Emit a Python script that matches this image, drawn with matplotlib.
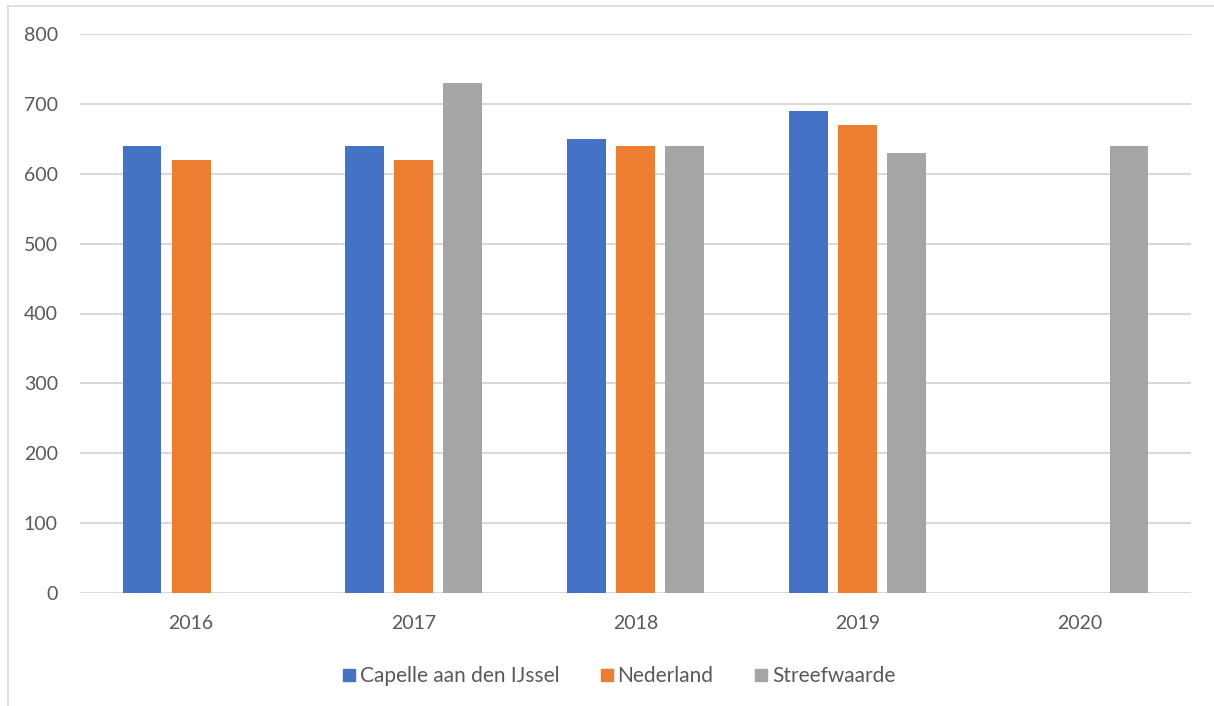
import matplotlib
matplotlib.use("Agg")
import matplotlib.pyplot as plt
import numpy as np
from matplotlib.lines import Line2D

years = ["2016", "2017", "2018", "2019", "2020"]
capelle = [640, 640, 650, 690, np.nan]
nederland = [620, 620, 640, 670, np.nan]
streefwaarde = [np.nan, 730, 640, 630, 640]
series_names = ["Capelle aan den IJssel", "Nederland", "Streefwaarde"]
colors = ["#4472C4", "#ED7D31", "#A5A5A5"]
yticks = [0, 100, 200, 300, 400, 500, 600, 700, 800]

plt.rcParams['font.family'] = ['Lato', 'DejaVu Sans']

fig = plt.figure(figsize=(12.14, 7.06), dpi=100)
ax = fig.add_axes([80/1214, 1-593/706, 1111/1214, (593-34)/706])

x = np.arange(len(years))
offset = 0.221
width = 0.175
for i, (vals, name, c) in enumerate(zip([capelle, nederland, streefwaarde], series_names, colors)):
    ax.bar(x + (i-1)*offset, vals, width=width, color=c, label=name, zorder=3)

ax.set_xlim(-0.5, len(years)-0.5)
ax.set_ylim(0, 800)
ax.set_yticks(yticks)
ax.set_xticks(x)
ax.set_xticklabels(years)
ax.grid(axis='y', color='#D9D9D9', linewidth=1.5, zorder=0)
for s in ax.spines.values():
    s.set_visible(False)
ax.tick_params(axis='both', length=0, labelsize=14, colors='#595959')
ax.tick_params(axis='y', pad=16)
ax.tick_params(axis='x', pad=16)

handles = [Line2D([0], [0], marker='s', linestyle='', markersize=9, markerfacecolor=c, markeredgecolor=c) for c in colors]
fig.legend(handles, series_names, loc='center', bbox_to_anchor=(618/1214, 1-676/706), ncol=3,
           frameon=False, fontsize=15, labelcolor='#595959', handletextpad=0.1, columnspacing=1.9,
           handlelength=0.8)

# outer border (top and left)
fig.add_artist(Line2D([8/1214, 8/1214], [0, 1-6/706], transform=fig.transFigure, color='#D9D9D9', linewidth=1.2))
fig.add_artist(Line2D([8/1214, 1], [1-6/706, 1-6/706], transform=fig.transFigure, color='#D9D9D9', linewidth=1.2))

fig.savefig("out.png", dpi=100)
